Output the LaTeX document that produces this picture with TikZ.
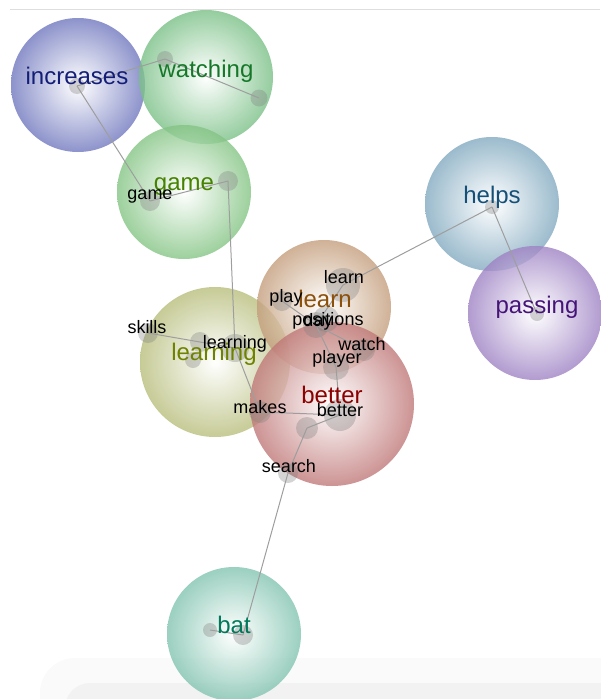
\documentclass[tikz,border=0pt]{standalone}
\usepackage{fontspec}
\setmainfont{Liberation Sans}
\usetikzlibrary{positioning}

\definecolor{increasesrim}{RGB}{112,120,190}
\definecolor{watchingrim}{RGB}{122,192,134}
\definecolor{gamerim}{RGB}{132,196,132}
\definecolor{helpsrim}{RGB}{130,170,192}
\definecolor{passingrim}{RGB}{158,130,196}
\definecolor{learnrim}{RGB}{196,158,124}
\definecolor{learningrim}{RGB}{184,190,124}
\definecolor{betterrim}{RGB}{192,120,120}
\definecolor{batrim}{RGB}{130,196,176}

\definecolor{increasestext}{RGB}{20,30,120}
\definecolor{watchingtext}{RGB}{20,120,40}
\definecolor{gametext}{RGB}{70,130,0}
\definecolor{helpstext}{RGB}{20,80,120}
\definecolor{passingtext}{RGB}{70,20,120}
\definecolor{learntext}{RGB}{140,80,10}
\definecolor{learningtext}{RGB}{110,130,0}
\definecolor{bettertext}{RGB}{140,0,0}
\definecolor{battext}{RGB}{0,120,90}

\begin{document}
\begin{tikzpicture}[x=1pt, y=-1pt,
    topicball/.style={circle, inner sep=0pt, minimum size=134pt, inner color=white, outer color=#1, fill opacity=0.8},
    termdot/.style={circle, inner sep=0pt, minimum size=#1, fill=black!50, fill opacity=0.34},
    termdot/.default=20pt,
    termlink/.style={draw=black!38, line width=1pt},
    topiclabel/.style={anchor=base, inner sep=0pt, text=#1, font=\fontsize{24}{28}\selectfont},
    termlabel/.style={anchor=base, inner sep=0pt, text=black, font=\fontsize{18}{21}\selectfont}]

    \useasboundingbox (0,0) rectangle (600,699);

    % Frame
    \draw[black!13, line width=1pt] (10,9) -- (600,9);
    \fill[black!2, rounded corners=35pt] (40,658) rectangle (700,780);
    \fill[black!5, rounded corners=25pt] (65,683) rectangle (700,780);

    % Topics
    \node[topicball=increasesrim] (increases) at (78,85) {};
    \node[topicball=watchingrim] (watching) at (206,77) {};
    \node[topicball=gamerim] (game) at (184,192) {};
    \node[topicball=helpsrim] (helps) at (492,204) {};
    \node[topicball=passingrim] (passing) at (535,313) {};
    \node[topicball=learningrim, minimum size=150pt] (learning) at (215,362) {};
    \node[topicball=learnrim] (learn) at (324,307) {};
    \node[topicball=betterrim, minimum size=164pt] (better) at (332,404) {};
    \node[topicball=batrim] (bat) at (234,634) {};

    % Terms
    \node[termdot=16pt] (increasesdot) at (77,86) {};
    \node[termdot=16pt] (watchingdot) at (165,59) {};
    \node[termdot=17pt] (watchingdotb) at (259,98) {};
    \node[termdot] (gamedot) at (150,201) {};
    \node[termdot] (gamedotb) at (228,181) {};
    \node[termdot=14pt] (helpsdot) at (492,207) {};
    \node[termdot=14pt] (passingdot) at (537,314) {};
    \node[termdot] (skillsdot) at (148,333) {};
    \node[termdot] (learningdot) at (200,342) {};
    \node[termdot=16pt] (learningdotb) at (193,360) {};
    \node[termdot=28pt] (learningdotc) at (235,348) {};
    \node[termdot=22pt] (makesdot) at (260,412) {};
    \node[termdot=32pt] (betterdot) at (340,415) {};
    \node[termdot=22pt] (betterdotb) at (307,428) {};
    \node[termdot] (searchdot) at (288,473) {};
    \node[termdot=34pt] (learndot) at (343,285) {};
    \node[termdot] (playdot) at (282,301) {};
    \node[termdot=26pt] (positionsdot) at (316,325) {};
    \node[termdot=26pt] (daydot) at (326,319) {};
    \node[termdot=22pt] (watchdot) at (364,350) {};
    \node[termdot=26pt] (playerdot) at (336,367) {};
    \node[termdot=14pt] (batdot) at (210,630) {};
    \node[termdot] (batdotb) at (243,635) {};

    % Links
    \draw[termlink] (increasesdot.center) -- (watchingdot.center);
    \draw[termlink] (watchingdot.center) -- (watchingdotb.center);
    \draw[termlink] (increasesdot.center) -- (gamedot.center);
    \draw[termlink] (gamedot.center) -- (gamedotb.center);
    \draw[termlink] (gamedotb.center) -- (learningdotc.center);
    \draw[termlink] (skillsdot.center) -- (learningdot.center);
    \draw[termlink] (learningdot.center) -- (learningdotc.center);
    \draw[termlink] (learningdotc.center) -- (makesdot.center);
    \draw[termlink] (makesdot.center) -- (betterdot.center);
    \draw[termlink] (betterdot.center) -- (betterdotb.center);
    \draw[termlink] (betterdotb.center) -- (searchdot.center);
    \draw[termlink] (searchdot.center) -- (batdotb.center);
    \draw[termlink] (batdot.center) -- (batdotb.center);
    \draw[termlink] (playdot.center) -- (positionsdot.center);
    \draw[termlink] (positionsdot.center) -- (watchdot.center);
    \draw[termlink] (learndot.center) -- (positionsdot.center);
    \draw[termlink] (learndot.center) -- (helpsdot.center);
    \draw[termlink] (helpsdot.center) -- (passingdot.center);
    \draw[termlink] (positionsdot.center) -- (playerdot.center);
    \draw[termlink] (playerdot.center) -- (betterdot.center);

    % Topic labels
    \node[topiclabel=increasestext] (increaseslabel) at (77,84) {increases};
    \node[topiclabel=watchingtext] (watchinglabel) at (206,77) {watching};
    \node[topiclabel=gametext] (gamelabel) at (184,190) {game};
    \node[topiclabel=helpstext] (helpslabel) at (492,203) {helps};
    \node[topiclabel=passingtext] (passinglabel) at (537,313) {passing};
    \node[topiclabel=learntext] (learnlabel) at (325,307) {learn};
    \node[topiclabel=learningtext] (learninglabel) at (214,360) {learning};
    \node[topiclabel=bettertext] (betterlabel) at (332,403) {better};
    \node[topiclabel=battext] (batlabel) at (234,633) {bat};

    % Term labels
    \node[termlabel] (gameterm) at (150,199) {game};
    \node[termlabel] (skillsterm) at (147,333) {skills};
    \node[termlabel] (learningterm) at (235,348) {learning};
    \node[termlabel] (makesterm) at (260,413) {makes};
    \node[termlabel] (betterterm) at (340,416) {better};
    \node[termlabel] (searchterm) at (289,472) {search};
    \node[termlabel] (learnterm) at (344,283) {learn};
    \node[termlabel] (playterm) at (286,302) {play};
    \node[termlabel] (dayterm) at (318,326) {day};
    \node[termlabel] (positionsterm) at (328,325) {positions};
    \node[termlabel] (watchterm) at (362,350) {watch};
    \node[termlabel] (playerterm) at (337,363) {player};
\end{tikzpicture}
\end{document}
